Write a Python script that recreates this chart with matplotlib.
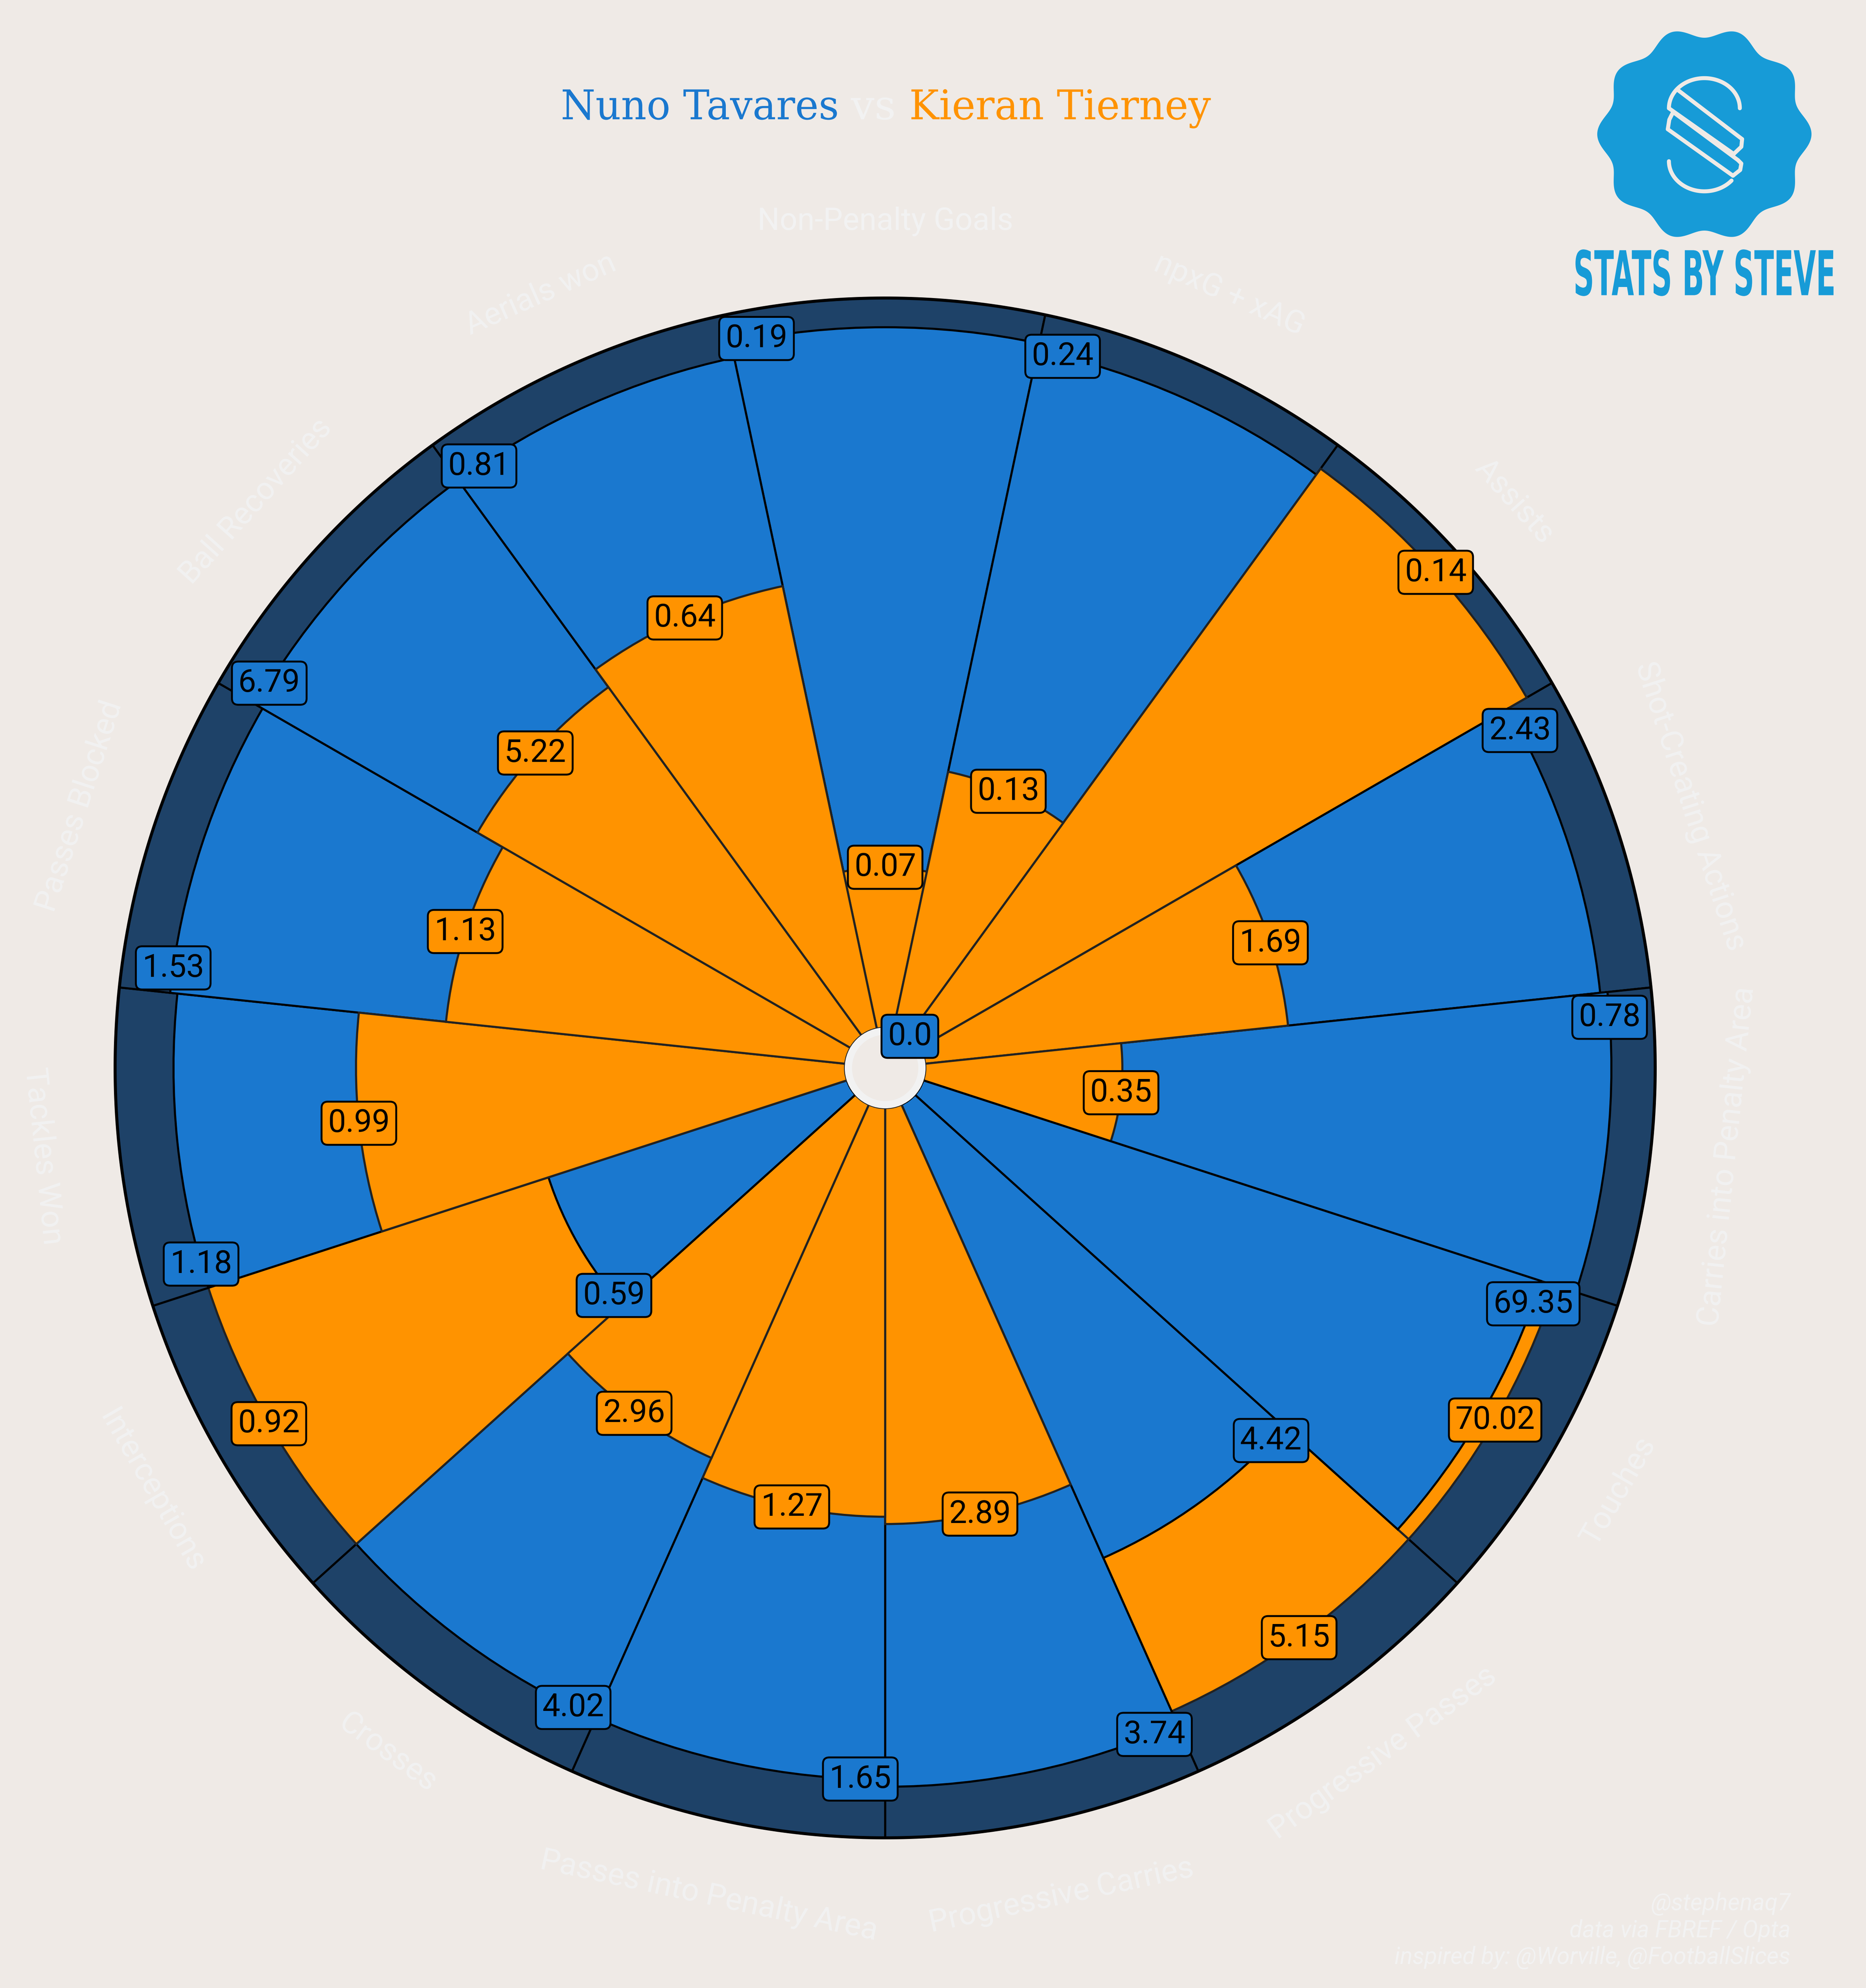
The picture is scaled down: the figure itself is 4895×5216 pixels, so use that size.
import numpy as np
import matplotlib
matplotlib.use("Agg")
import matplotlib.pyplot as plt
from matplotlib.patches import Circle, Polygon
from matplotlib.patheffects import AbstractPathEffect
from matplotlib.transforms import Affine2D

# ---------------- data ----------------
params = ["Non-Penalty Goals", "npxG + xAG", "Assists", "Shot-Creating Actions",
          "Carries into Penalty Area", "Touches", "Progressive Passes", "Progressive Carries",
          "Passes into Penalty Area", "Crosses", "Interceptions", "Tackles Won",
          "Passes Blocked", "Ball Recoveries", "Aerials won"]
player_a = "Nuno Tavares"
player_b = "Kieran Tierney"
pct_a = [96, 95, 0, 93, 94, 89, 68, 93, 92, 92, 43, 92, 93, 94, 94]
pct_b = [22, 36, 96, 50, 27, 91, 91, 57, 56, 53, 92, 67, 55, 59, 62]
raw_a = ["0.19", "0.24", "0.0", "2.43", "0.78", "69.35", "4.42", "3.74", "1.65",
         "4.02", "0.59", "1.18", "1.53", "6.79", "0.81"]
raw_b = ["0.07", "0.13", "0.14", "1.69", "0.35", "70.02", "5.15", "2.89", "1.27",
         "2.96", "0.92", "0.99", "1.13", "5.22", "0.64"]
credits = ["@stephenaq7", "data via FBREF / Opta", "inspired by: @Worville, @FootballSlices"]
logo_text = "STATS BY STEVE"

# ---------------- style ----------------
BG = "#EFEAE6"
BLUE = "#1A78CF"
ORANGE = "#FF9300"
RING = "#1E4268"
LIGHT = "#F2F2F2"
LOGO = "#179BD7"

W, H, DPI = 4895, 5216, 600
PX = 72.0 / DPI  # points per pixel

plt.rcParams['font.family'] = ['Roboto', 'DejaVu Sans']

fig = plt.figure(figsize=(W / DPI, H / DPI), dpi=DPI, facecolor=BG)


class Scale(AbstractPathEffect):
    """Scale text glyphs around a display-space anchor point."""
    def __init__(self, sx, sy, x0, y0):
        super().__init__()
        self.sx, self.sy, self.x0, self.y0 = sx, sy, x0, y0

    def draw_path(self, renderer, gc, tpath, affine, rgbFace=None):
        aff = affine + Affine2D().translate(-self.x0, -self.y0) \
            .scale(self.sx, self.sy).translate(self.x0, self.y0)
        renderer.draw_path(gc, tpath, aff, rgbFace)


# ---------------- pizza ----------------
cx, cy, R = 2322, 2802, 2020
INNER = 5.5
ax = fig.add_axes([(cx - R) / W, 1 - (cy + R) / H, 2 * R / W, 2 * R / H], projection='polar')
ax.set_ylim(-INNER, 100)
ax.set_axis_off()

n = len(params)
theta_deg = 90 - 24 * np.arange(n)
theta = np.deg2rad(theta_deg)
width = np.deg2rad(360 / n)
LW = 5.5 * PX

ax.bar(theta, [100] * n, width=width, bottom=0, color=RING, edgecolor="black",
       linewidth=LW, zorder=1)

for i in range(n):
    a, b = pct_a[i], pct_b[i]
    bars = [(a, BLUE, "#000000"), (b, ORANGE, "#222222")]
    bars.sort(key=lambda t: -t[0])
    for z, (val, col, ec) in enumerate(bars):
        ax.bar(theta[i], val, width=width, bottom=0, color=col, edgecolor=ec,
               linewidth=LW, zorder=2 + z)

circ_t = np.linspace(0, 2 * np.pi, 720)
ax.plot(circ_t, np.full_like(circ_t, 100), color="black", lw=8 * PX, zorder=5, clip_on=False)

inner = Circle((0.5, 0.5), radius=(106 - 9.5) / (2 * R), transform=ax.transAxes,
               facecolor=BG, edgecolor=LIGHT, linewidth=19 * PX, zorder=6, clip_on=False)
ax.add_patch(inner)

# value labels
off = np.deg2rad(10)
for i in range(n):
    ax.text(theta[i] + off, pct_a[i], raw_a[i], ha="center", va="center", fontsize=10,
            color="black", zorder=10,
            bbox=dict(boxstyle="round,pad=0.2", facecolor=BLUE, edgecolor="black", lw=5 * PX))
    ax.text(theta[i], pct_b[i], raw_b[i], ha="center", va="center", fontsize=10,
            color="black", zorder=10,
            bbox=dict(boxstyle="round,pad=0.2", facecolor=ORANGE, edgecolor="black", lw=5 * PX))

# parameter labels
for i in range(n):
    d = theta_deg[i] % 360
    rot = d - 90 if 0 < d < 180 else d - 270
    ax.text(theta[i], 110.5, params[i], ha="center", va="center", rotation=rot,
            rotation_mode="anchor", fontsize=9.8, color=LIGHT, zorder=10)

# ---------------- title ----------------
renderer = fig.canvas.get_renderer()


def fitted_text(x_left, y_base, s, target_w, color, size, family, weight="normal", sy=1.0):
    t = fig.text(x_left / W, 1 - y_base / H, s, ha="left", va="baseline", color=color,
                 fontsize=size, family=family, fontweight=weight)
    w = t.get_window_extent(renderer).width
    t.set_path_effects([Scale(target_w / w, sy, x_left, H - y_base)])
    return t


serif = ['DejaVu Serif']
fitted_text(1471, 313, player_a, 729, BLUE, 12.9, serif)
fitted_text(2232, 313, "vs", 118, LIGHT, 12.9, serif)
fitted_text(2385, 313, player_b, 791, ORANGE, 12.9, serif)

# ---------------- credits ----------------
for k, (line, yb) in enumerate(zip(credits, [5012, 5083, 5153])):
    fig.text(4697 / W, 1 - yb / H, line, ha="right", va="baseline", fontsize=7.4,
             style="italic", color=LIGHT, family=['Roboto', 'DejaVu Sans'])

# ---------------- logo ----------------
lax = fig.add_axes([0, 0, 1, 1], zorder=20)
lax.set_xlim(0, W)
lax.set_ylim(H, 0)
lax.set_axis_off()
lax.patch.set_alpha(0)

bx, by = 4471, 352
tt = np.linspace(0, 2 * np.pi, 1441)
rr = 267 + 14 * np.cos(10 * tt)
lax.add_patch(Polygon(np.column_stack([bx + rr * np.cos(tt), by - rr * np.sin(tt)]),
                      closed=True, facecolor=LOGO, edgecolor="none"))

slw = 10.5 * PX
sk = dict(color=BG, lw=slw, solid_capstyle="round", solid_joinstyle="round")
rx, ry = 93, 79
t1 = np.deg2rad(np.linspace(0, 180, 90))
lax.plot(bx + rx * np.cos(t1), by - 68 - ry * np.sin(t1), **sk)
t2 = np.deg2rad(np.linspace(180, 320, 90))
lax.plot(bx + rx * np.cos(t2), by + 71 - ry * np.sin(t2), **sk)
segs = [
    [(-71, -117), (99, 13)],
    [(-93, -68), (77, 52)],
    [(99, 13), (97, 33), (77, 52)],
    [(-82, -58), (-92, -38), (-96, -13)],
    [(-82, -58), (88, 68)],
    [(-96, -13), (75, 109)],
    [(88, 68), (97, 77), (94, 94), (75, 109)],
]
for sgm in segs:
    xs = [bx + p[0] for p in sgm]
    ys = [by + p[1] for p in sgm]
    lax.plot(xs, ys, **sk)

# logo wordmark: a small real text, stretched vertically so it stays inside the figure
LOGO_FS = 8.0
lt = lax.text(4127.5, 774.5, logo_text, ha="left", va="baseline", color=LOGO,
              fontsize=LOGO_FS, fontweight="bold", family=['DejaVu Sans'])
lw_nat = lt.get_window_extent(renderer).width
cap_nat = 0.729 * LOGO_FS / PX
lt.set_path_effects([Scale(688 / lw_nat, 118 / cap_nat, 4127.5, H - 774.5)])

fig.savefig("out.png", dpi=DPI, facecolor=BG)
